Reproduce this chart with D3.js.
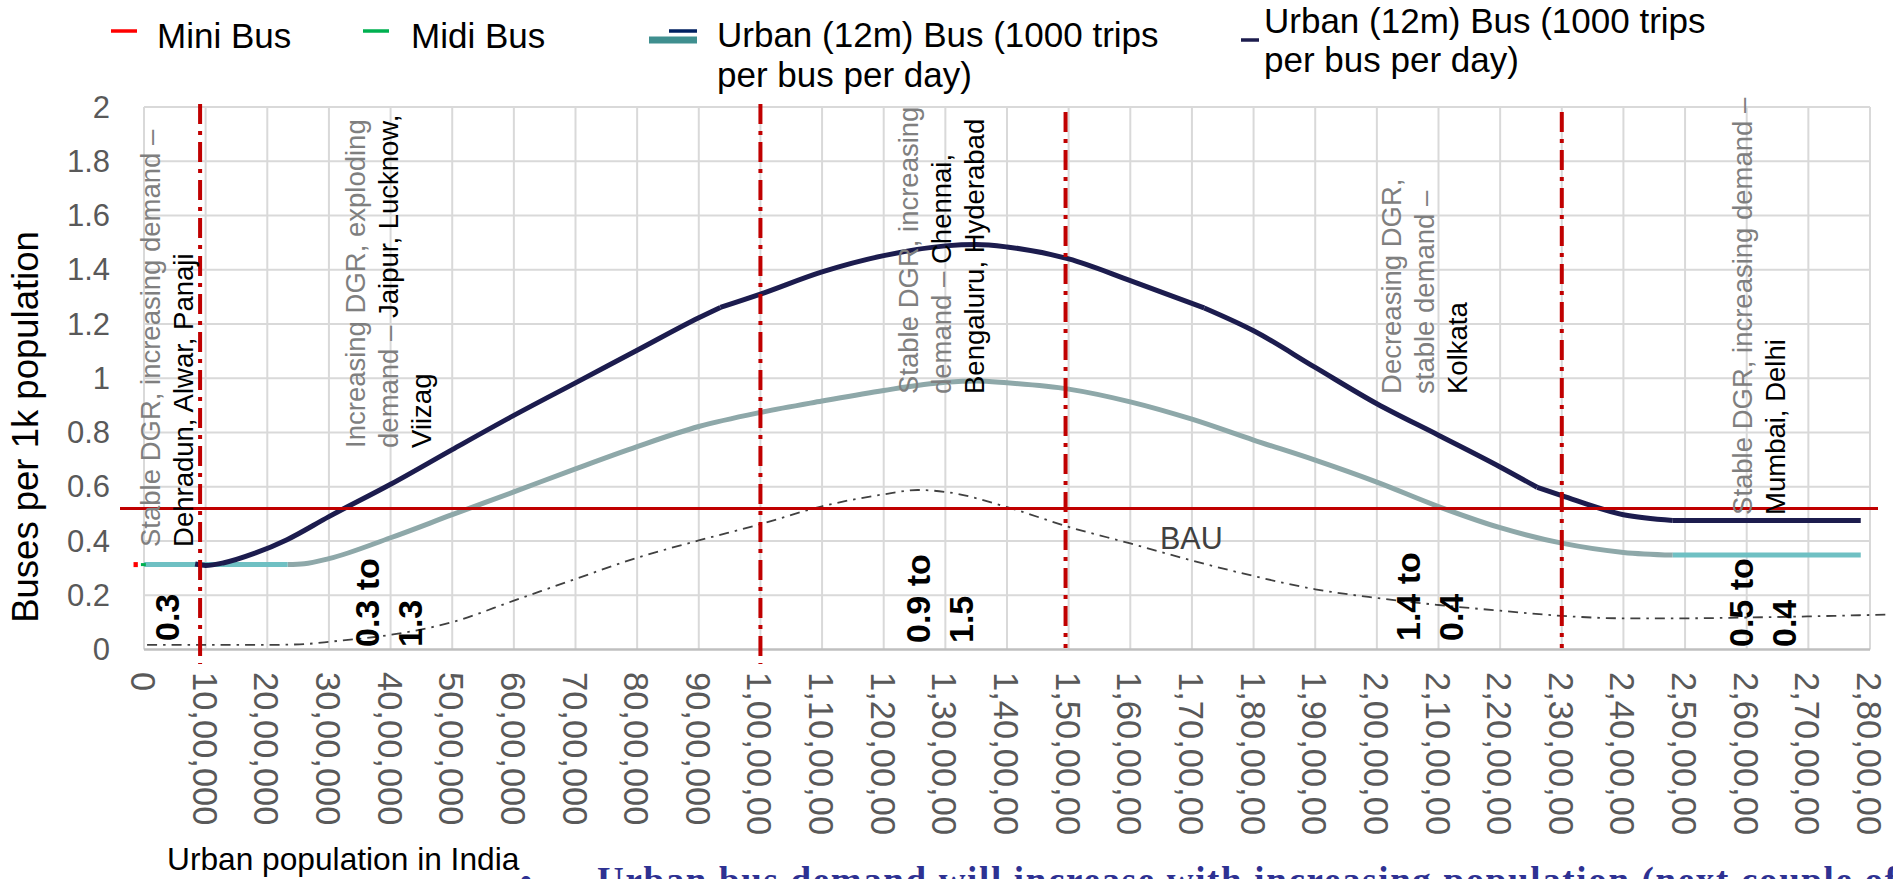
<!DOCTYPE html>
<html lang="en">
    <head>
        <meta charset="utf-8">
        <title>Buses per 1k population</title>
        <script type="text/javascript" src="https://d3js.org/d3.v7.min.js"></script>
        <style type="text/css">
            body {
                margin: 0;
                background-color: #ffffff;
            }
            svg {
                display: block;
                font-family: "Liberation Sans", Arial, sans-serif;
            }
        </style>
    </head>
    <body>
        <svg width="1893" height="879"></svg>
        <script type="text/javascript">

            // ---- data (x in units of 1 crore = 10 million people) ----
            const xTickLabels = ["0", "10,00,000", "20,00,000", "30,00,000", "40,00,000", "50,00,000",
                "60,00,000", "70,00,000", "80,00,000", "90,00,000", "1,00,00,00", "1,10,00,00",
                "1,20,00,00", "1,30,00,00", "1,40,00,00", "1,50,00,00", "1,60,00,00", "1,70,00,00",
                "1,80,00,00", "1,90,00,00", "2,00,00,00", "2,10,00,00", "2,20,00,00", "2,30,00,00",
                "2,40,00,00", "2,50,00,00", "2,60,00,00", "2,70,00,00", "2,80,00,00"];
            const yTicks = [0, 0.2, 0.4, 0.6, 0.8, 1, 1.2, 1.4, 1.6, 1.8, 2];
            const yTickLabels = ["0", "0.2", "0.4", "0.6", "0.8", "1", "1.2", "1.4", "1.6", "1.8", "2"];

            // Urban (12m) bus, 1000 trips per bus per day (navy) - drawn in pieces, joined at the kinks
            const urbanHighX = [
                [0.83, 1.0, 1.3, 1.8, 2.32, 3.0, 4.0, 5.0, 6.0, 7.0, 8.0, 9.0, 9.35],
                [9.35, 10.0, 11.0, 12.0, 13.0, 13.5, 14.0, 15.0, 16.0, 17.2],
                [17.2, 18.0, 19.0, 20.0, 21.0, 22.0, 22.6],
                [22.6, 23.0, 24.0, 24.8],
                [24.8, 27.85]
            ];
            const urbanHighY = [
                [0.315, 0.31, 0.32, 0.355, 0.405, 0.49, 0.609, 0.737, 0.863, 0.983, 1.103, 1.223, 1.261],
                [1.261, 1.31, 1.392, 1.452, 1.488, 1.493, 1.484, 1.44, 1.36, 1.259],
                [1.259, 1.175, 1.04, 0.906, 0.79, 0.673, 0.598],
                [0.598, 0.567, 0.497, 0.476],
                [0.476, 0.476]
            ];

            // Urban (12m) bus (grey-teal curve)
            const urbanX = [2.33, 2.6, 3.0, 4.0, 5.0, 6.0, 7.0, 8.0, 9.0, 10.0, 11.0, 12.0, 13.0, 13.5, 14.0,
                15.0, 16.0, 17.0, 18.0, 19.0, 20.0, 21.0, 22.0, 23.0, 24.0, 24.8];
            const urbanY = [0.313, 0.316, 0.335, 0.412, 0.497, 0.581, 0.666, 0.748, 0.822, 0.874, 0.916, 0.955, 0.985, 0.990, 0.983,
                0.96, 0.913, 0.849, 0.772, 0.698, 0.617, 0.527, 0.449, 0.392, 0.358, 0.348];

            // flat stretches of the same series (light cyan)
            const flatStartX = [0, 2.33];
            const flatStartY = [0.313, 0.313];
            const flatEndX = [24.8, 27.85];
            const flatEndY = [0.348, 0.348];

            // mini / midi bus (tiny stubs near the origin)
            const miniX = [-0.17, -0.1];
            const miniY = [0.313, 0.313];
            const midiX = [-0.05, 0.03];
            const midiY = [0.313, 0.313];

            // business as usual
            const bauX = [0.05, 1, 2, 2.53, 3.07, 4, 5, 6, 7, 8, 9, 10, 11, 12, 12.55, 13, 14, 15, 16, 17, 18,
                19, 20, 21, 22, 23, 24, 25, 26, 27, 28.3];
            const bauY = [0.017, 0.017, 0.017, 0.019, 0.03, 0.054, 0.101, 0.18, 0.26, 0.338, 0.402, 0.462, 0.528, 0.572, 0.588,
                0.581, 0.525, 0.452, 0.391, 0.328, 0.271, 0.222, 0.19, 0.164, 0.143, 0.124, 0.115, 0.115, 0.118, 0.122, 0.129];

            const benchmark = 0.52;
            const dividers = [0.91, 10, 14.95, 23];

            // phase annotations: lines of [text, tone]  (g = grey, k = black)
            const phaseNotes = [
                [[["Stable DGR, increasing demand –", "g"]], [["Dehradun, Alwar, Panaji", "k"]]],
                [[["Increasing DGR, exploding", "g"]], [["demand – ", "g"], ["Jaipur, Lucknow,", "k"]], [["Viizag", "k"]]],
                [[["Stable DGR, increasing", "g"]], [["demand – ", "g"], ["Chennai,", "k"]], [["Bengaluru, Hyderabad", "k"]]],
                [[["Decreasing DGR,", "g"]], [["stable demand –", "g"]], [["Kolkata", "k"]]],
                [[["Stable DGR, increasing demand –", "g"]], [["Mumbai, Delhi", "k"]]]
            ];
            const rangeLabels = [["0.3"], ["0.3 to", "1.3"], ["0.9 to", "1.5"], ["1.4 to", "0.4"], ["0.5 to", "0.4"]];

            // ---- chart ----
            const svg = d3.select("svg");
            const x = d3.scaleLinear().domain([0, 28]).range([144, 1870]);
            const y = d3.scaleLinear().domain([0, 2]).range([649.5, 107]);

            const zip = (xs, ys) => xs.map((v, i) => [v, ys[i]]);
            const line = d3.line().x(d => x(d[0])).y(d => y(d[1])).curve(d3.curveMonotoneX);

            // gridlines
            const grid = svg.append("g");
            grid.selectAll("line.v")
                .data(d3.range(0, 29))
                .enter()
                .append("line")
                .attr("x1", d => x(d)).attr("x2", d => x(d))
                .attr("y1", y(2)).attr("y2", y(0))
                .attr("stroke", "#D9D9D9")
                .attr("stroke-width", 2);
            grid.selectAll("line.h")
                .data(yTicks)
                .enter()
                .append("line")
                .attr("x1", x(0)).attr("x2", x(28))
                .attr("y1", d => y(d)).attr("y2", d => y(d))
                .attr("stroke", d => d === 0 ? "#BFBFBF" : "#D9D9D9")
                .attr("stroke-width", d => d === 0 ? 2.5 : 2);

            // y tick labels
            svg.append("g")
                .selectAll("text")
                .data(yTicks)
                .enter()
                .append("text")
                .attr("x", 110)
                .attr("y", d => y(d))
                .attr("text-anchor", "end")
                .attr("dominant-baseline", "central")
                .attr("font-size", 31)
                .attr("fill", "#595959")
                .text((d, i) => yTickLabels[i]);

            // x tick labels (rotated, reading downwards)
            svg.append("g")
                .selectAll("text")
                .data(xTickLabels)
                .enter()
                .append("text")
                .attr("transform", (d, i) => "translate(" + (x(i) - 1) + ",672) rotate(90)")
                .attr("dominant-baseline", "central")
                .attr("font-size", 34.5)
                .attr("fill", "#595959")
                .text(d => d);

            // axis titles
            svg.append("text")
                .attr("transform", "translate(25,427) rotate(-90)")
                .attr("text-anchor", "middle")
                .attr("dominant-baseline", "central")
                .attr("font-size", 36.5)
                .attr("fill", "#000")
                .text("Buses per 1k population");
            svg.append("text")
                .attr("x", 167).attr("y", 870)
                .attr("font-size", 31.7)
                .attr("fill", "#000")
                .text("Urban population in India");

            // BAU
            svg.append("path")
                .attr("d", line(zip(bauX, bauY)))
                .attr("fill", "none")
                .attr("stroke", "#404040")
                .attr("stroke-width", 1.8)
                .attr("stroke-dasharray", "10,6,2.5,6");
            svg.append("text")
                .attr("x", 1160).attr("y", 549)
                .attr("font-size", 30.5)
                .attr("fill", "#404040")
                .text("BAU");

            // series
            svg.append("path")
                .attr("d", line(zip(urbanX, urbanY)))
                .attr("fill", "none").attr("stroke", "#8EA8A9").attr("stroke-width", 5);
            [zip(flatStartX, flatStartY), zip(flatEndX, flatEndY)].forEach(seg => {
                svg.append("path")
                    .attr("d", line(seg))
                    .attr("fill", "none").attr("stroke", "#6FC0C3").attr("stroke-width", 5);
            });
            urbanHighX.forEach((xs, k) => {
                svg.append("path")
                    .attr("d", line(zip(xs, urbanHighY[k])))
                    .attr("fill", "none").attr("stroke", "#1C1C4E").attr("stroke-width", 5);
            });
            svg.append("path")
                .attr("d", line(zip(miniX, miniY)))
                .attr("fill", "none").attr("stroke", "#FF0000").attr("stroke-width", 5);
            svg.append("path")
                .attr("d", line(zip(midiX, midiY)))
                .attr("fill", "none").attr("stroke", "#00B050").attr("stroke-width", 3);

            // benchmark line
            svg.append("line")
                .attr("x1", x.range()[0] - 24).attr("x2", x.range()[1] + 8)
                .attr("y1", y(benchmark)).attr("y2", y(benchmark))
                .attr("stroke", "#C00000")
                .attr("stroke-width", 3);

            // phase dividers
            svg.selectAll("line.div")
                .data(dividers)
                .enter()
                .append("line")
                .attr("x1", d => x(d)).attr("x2", d => x(d))
                .attr("y1", (d, i) => i < 2 ? 104 : 112)
                .attr("y2", (d, i) => i < 2 ? 664 : 648)
                .attr("stroke", "#C00000")
                .attr("stroke-width", 4)
                .attr("stroke-dasharray", "20,7,4,7");

            // phase annotations (vertical, reading upwards)
            const noteAnchors = [[0.1, 0.378], [3.43, 0.743], [12.39, 0.942], [20.23, 0.942], [25.93, 0.496]];
            const tone = { g: "#7F7F7F", k: "#000000" };
            phaseNotes.forEach((note, n) => {
                const t = svg.append("text")
                    .attr("transform", "translate(" + x(noteAnchors[n][0]) + "," + y(noteAnchors[n][1]) + ") rotate(-90)")
                    .attr("dominant-baseline", "central")
                    .attr("font-size", 27.5);
                note.forEach((ln, i) => {
                    ln.forEach((seg, j) => {
                        const s = t.append("tspan").attr("fill", tone[seg[1]]).text(seg[0]);
                        if (j === 0) s.attr("x", 0).attr("dy", i === 0 ? 0 : 33);
                    });
                });
            });

            // range labels (bold, vertical)
            const rangeAnchors = [[0.37, 641], [3.62, 647], [12.56, 643], [20.5, 641], [25.9, 647]];
            rangeLabels.forEach((lbl, n) => {
                const t = svg.append("text")
                    .attr("transform", "translate(" + x(rangeAnchors[n][0]) + "," + rangeAnchors[n][1] + ") rotate(-90)")
                    .attr("dominant-baseline", "central")
                    .attr("font-size", 34)
                    .attr("font-weight", "bold")
                    .attr("fill", "#000");
                lbl.forEach((s, i) => {
                    t.append("tspan").attr("x", 0).attr("dy", i === 0 ? 0 : 43).text(s);
                });
            });

            // legend
            const legend = svg.append("g").attr("font-size", 35).attr("fill", "#000");
            legend.append("line").attr("x1", 111).attr("x2", 137).attr("y1", 31).attr("y2", 31)
                .attr("stroke", "#FF0000").attr("stroke-width", 3.5);
            legend.append("text").attr("x", 157).attr("y", 48).text("Mini Bus");
            legend.append("line").attr("x1", 363).attr("x2", 389).attr("y1", 31).attr("y2", 31)
                .attr("stroke", "#00B050").attr("stroke-width", 3.5);
            legend.append("text").attr("x", 411).attr("y", 48).text("Midi Bus");
            legend.append("line").attr("x1", 649).attr("x2", 697).attr("y1", 40).attr("y2", 40)
                .attr("stroke", "#3F8F8F").attr("stroke-width", 7);
            legend.append("line").attr("x1", 669).attr("x2", 697).attr("y1", 31).attr("y2", 31)
                .attr("stroke", "#002060").attr("stroke-width", 3.5);
            legend.append("text").attr("x", 717).attr("y", 47).text("Urban (12m) Bus (1000 trips");
            legend.append("text").attr("x", 717).attr("y", 87).text("per bus per day)");
            legend.append("line").attr("x1", 1241).attr("x2", 1259).attr("y1", 40).attr("y2", 40)
                .attr("stroke", "#1C1C4E").attr("stroke-width", 3.5);
            legend.append("text").attr("x", 1264).attr("y", 33).text("Urban (12m) Bus (1000 trips");
            legend.append("text").attr("x", 1264).attr("y", 72).text("per bus per day)");

            // cut-off slide text at the bottom
            svg.append("text")
                .attr("x", 520).attr("y", 892)
                .attr("font-size", 34)
                .attr("fill", "#2E3192")
                .text("•");
            svg.append("text")
                .attr("x", 597).attr("y", 893)
                .attr("font-family", "'Liberation Serif', 'DejaVu Serif', serif")
                .attr("font-weight", "bold")
                .attr("font-size", 37)
                .attr("fill", "#2E3192")
                .attr("textLength", 1300)
                .text("Urban bus demand will increase with increasing population (next couple of");
        </script>
    </body>
</html>
